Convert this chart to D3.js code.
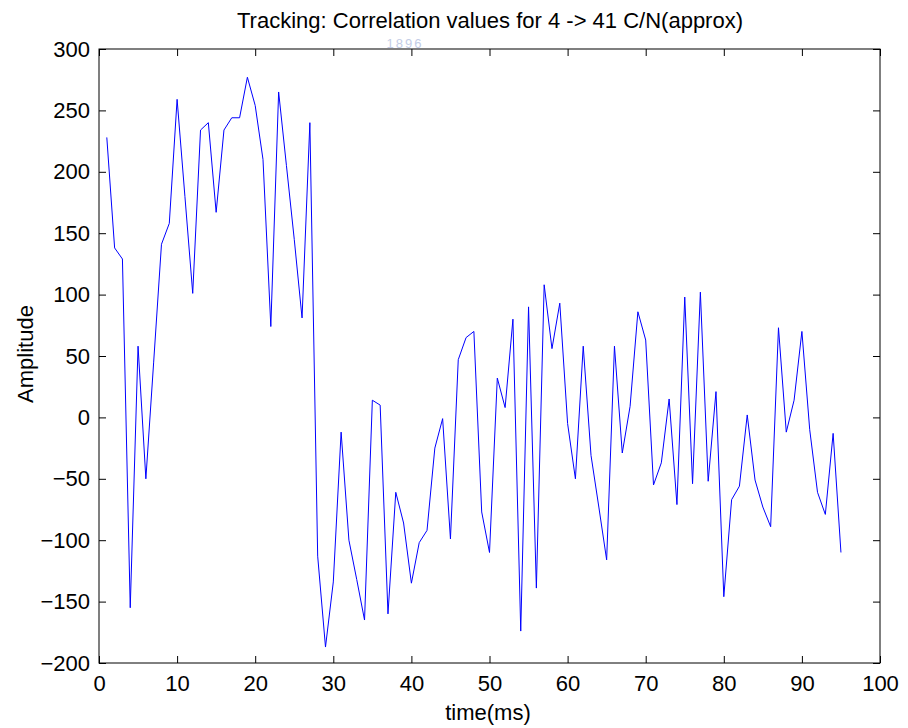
<!DOCTYPE html>
<html>
<head>
<meta charset="utf-8">
<script src="https://cdn.jsdelivr.net/npm/d3@7"></script>
<style>
  body { margin: 0; background: #fff; }
  text { font-family: "Liberation Sans", Arial, sans-serif; fill: #000; }
</style>
</head>
<body>
<script>
// Correlation amplitude per millisecond
const timeMs = d3.range(1, 96);
const amplitude = [
  228, 138, 129, -155, 58, -50, 45, 141, 158, 259,
  180, 101, 234, 240, 167, 234, 244, 244, 277, 254,
  210, 74, 265, 205, 145, 81, 240, -113, -187, -134,
  -12, -100, -132, -165, 14, 10, -160, -61, -86, -135,
  -102, -92, -25, -1, -99, 47, 65, 70, -77, -110,
  32, 8, 80, -174, 90, -139, 108, 56, 93, -5,
  -50, 58, -31, -73, -116, 58, -29, 9, 86, 63,
  -55, -37, 15, -71, 98, -54, 102, -52, 21, -146,
  -67, -56, 2, -51, -73, -89, 73, -12, 14, 70,
  -10, -61, -79, -13, -110
];
const xTicks = d3.range(0, 101, 10);
const yTicks = d3.range(-200, 301, 50);

const titleText = 'Tracking: Correlation values for 4 -> 41 C/N(approx)';
const xLabel = 'time(ms)';
const yLabel = 'Amplitude';

const width = 908, height = 728;
const margin = { top: 49, right: 28, bottom: 65, left: 99 };
const innerW = width - margin.left - margin.right;
const innerH = height - margin.top - margin.bottom;
const fontSize = '22px';

const svg = d3.select('body').append('svg')
    .attr('width', width)
    .attr('height', height);

// faint watermark left over from the scanned page
svg.append('text')
    .attr('x', 405).attr('y', 48)
    .attr('text-anchor', 'middle')
    .style('font-size', '13px')
    .style('fill', '#c3cde6')
    .style('letter-spacing', '2px')
    .text('1896');

const g = svg.append('g')
    .attr('transform', 'translate(' + margin.left + ',' + margin.top + ')');

const x = d3.scaleLinear().domain([0, 100]).range([0, innerW]);
const y = d3.scaleLinear().domain([-200, 300]).range([innerH, 0]);

const tick = 7;

// bottom and left axes with inward ticks
const xAxis = g.append('g')
    .attr('transform', 'translate(0,' + innerH + ')')
    .call(d3.axisBottom(x).tickValues(xTicks).tickSizeInner(-tick).tickSizeOuter(0).tickPadding(12));
const yAxis = g.append('g')
    .call(d3.axisLeft(y).tickValues(yTicks).tickSizeInner(-tick).tickSizeOuter(0).tickPadding(9));

// top and right axes: ticks only
const xTop = g.append('g')
    .call(d3.axisTop(x).tickValues(xTicks).tickSizeInner(-tick).tickSizeOuter(0).tickFormat(''));
const yRight = g.append('g')
    .attr('transform', 'translate(' + innerW + ',0)')
    .call(d3.axisRight(y).tickValues(yTicks).tickSizeInner(-tick).tickSizeOuter(0).tickFormat(''));

[xAxis, yAxis, xTop, yRight].forEach(a => {
  a.select('.domain').remove();
  a.selectAll('line').attr('stroke', '#000');
  a.selectAll('text').style('font-size', fontSize);
});

g.append('rect')
    .attr('width', innerW)
    .attr('height', innerH)
    .attr('fill', 'none')
    .attr('stroke', '#000')
    .attr('stroke-width', 1);

const line = d3.line()
    .x((d, i) => x(timeMs[i]))
    .y(d => y(d));

g.append('path')
    .datum(amplitude)
    .attr('fill', 'none')
    .attr('stroke', '#0000ff')
    .attr('stroke-width', 1)
    .attr('d', line);

svg.append('text')
    .attr('x', 490)
    .attr('y', 28)
    .attr('text-anchor', 'middle')
    .style('font-size', fontSize)
    .text(titleText);

svg.append('text')
    .attr('x', 488)
    .attr('y', 720)
    .attr('text-anchor', 'middle')
    .style('font-size', fontSize)
    .text(xLabel);

svg.append('text')
    .attr('transform', 'translate(33,354) rotate(-90)')
    .attr('text-anchor', 'middle')
    .style('font-size', fontSize)
    .text(yLabel);
</script>
</body>
</html>
